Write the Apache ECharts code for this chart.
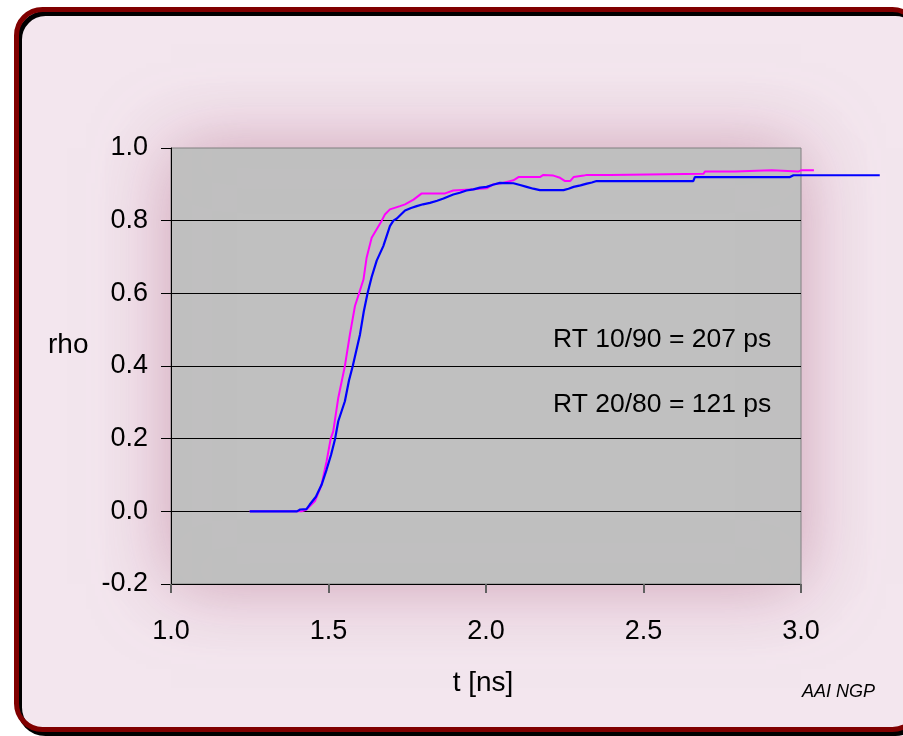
<!DOCTYPE html>
<html>
<head>
<meta charset="utf-8">
<script src="https://cdn.jsdelivr.net/npm/echarts@6/dist/echarts.min.js"></script>
<style>
html,body{margin:0;padding:0;background:#ffffff;overflow:hidden;}
#c{width:903px;height:736px;}
</style>
</head>
<body>
<div id="c"></div>
<script>
// ---- data ----
var xTicks = [1.0, 1.5, 2.0, 2.5, 3.0];
var yTicks = [-0.2, 0.0, 0.2, 0.4, 0.6, 0.8, 1.0];

var blueT = [1.25, 1.40, 1.41, 1.43, 1.44, 1.46, 1.478, 1.494, 1.508, 1.521, 1.531, 1.552, 1.565, 1.577, 1.60, 1.612, 1.624, 1.637, 1.653, 1.674, 1.695, 1.706, 1.717, 1.743, 1.762, 1.780, 1.800, 1.822, 1.845, 1.865, 1.896, 1.917, 1.938, 1.960, 1.981, 2.002, 2.022, 2.044, 2.087, 2.108, 2.129, 2.150, 2.171, 2.246, 2.262, 2.278, 2.300, 2.320, 2.336, 2.351, 2.658, 2.663, 2.965, 2.976, 3.25];
var blueR = [0.000, 0.000, 0.005, 0.006, 0.018, 0.040, 0.073, 0.115, 0.155, 0.200, 0.248, 0.303, 0.360, 0.400, 0.487, 0.550, 0.600, 0.645, 0.690, 0.730, 0.785, 0.800, 0.806, 0.828, 0.835, 0.840, 0.845, 0.849, 0.855, 0.861, 0.872, 0.877, 0.883, 0.886, 0.891, 0.893, 0.899, 0.904, 0.903, 0.898, 0.893, 0.888, 0.884, 0.884, 0.888, 0.893, 0.897, 0.902, 0.905, 0.909, 0.909, 0.920, 0.920, 0.925, 0.925];

var pinkT = [1.25, 1.415, 1.430, 1.457, 1.478, 1.494, 1.507, 1.515, 1.531, 1.552, 1.568, 1.584, 1.597, 1.611, 1.621, 1.637, 1.669, 1.679, 1.695, 1.727, 1.743, 1.770, 1.796, 1.870, 1.896, 1.950, 2.002, 2.023, 2.044, 2.087, 2.103, 2.171, 2.182, 2.214, 2.235, 2.251, 2.267, 2.278, 2.310, 2.320, 2.394, 2.399, 2.690, 2.695, 2.790, 2.796, 2.907, 2.912, 2.991, 3.002, 3.041];
var pinkR = [0.000, 0.000, 0.005, 0.028, 0.073, 0.138, 0.200, 0.220, 0.312, 0.400, 0.487, 0.565, 0.600, 0.638, 0.698, 0.753, 0.800, 0.817, 0.831, 0.840, 0.845, 0.858, 0.875, 0.875, 0.883, 0.886, 0.889, 0.900, 0.902, 0.911, 0.920, 0.920, 0.926, 0.924, 0.918, 0.909, 0.909, 0.920, 0.924, 0.926, 0.926, 0.929, 0.929, 0.935, 0.935, 0.939, 0.939, 0.935, 0.935, 0.939, 0.939];

var yLabel = 'rho';
var xLabel = 't [ns]';
var notes = ['RT 10/90 = 207 ps', 'RT 20/80 = 121 ps'];
var credit = 'AAI NGP';

function pairs(t, r) { return t.map(function (v, i) { return [v, r[i]]; }); }

var FONT = '"Liberation Sans", Arial, sans-serif';
var chart = echarts.init(document.getElementById('c'), null, { renderer: 'canvas', width: 903, height: 736 });

// plot box: x 1.0..3.0 -> 171..801 px ; an overflow box continues the same scale to 3.25
var plotLeft = 171, plotRight = 801, plotTop = 148, plotBottom = 584;
var pxPerNs = (plotRight - plotLeft) / 2.0;
var xOverflowMax = 3.25;
var overflowRightPx = plotLeft + (xOverflowMax - 1.0) * pxPerNs;

chart.setOption({
  animation: false,
  backgroundColor: '#ffffff',
  graphic: [
    {
      type: 'rect', z: -10, silent: true,
      shape: { x: 16.5, y: 9.5, width: 902, height: 720, r: 26 },
      style: { fill: '#f3e6ee', stroke: '#800000', lineWidth: 5,
               shadowColor: '#000000', shadowOffsetX: 3, shadowOffsetY: 4, shadowBlur: 0 }
    },
    { type: 'text', x: 48, y: 345, style: { text: yLabel, font: '28px ' + FONT, fill: '#000', verticalAlign: 'middle' } },
    { type: 'text', x: 483, y: 683, style: { text: xLabel, font: '28px ' + FONT, fill: '#000', align: 'center', verticalAlign: 'middle' } },
    { type: 'text', x: 553, y: 340, z: 10, style: { text: notes[0], font: '26.5px ' + FONT, fill: '#000', verticalAlign: 'middle' } },
    { type: 'text', x: 553, y: 405, z: 10, style: { text: notes[1], font: '26.5px ' + FONT, fill: '#000', verticalAlign: 'middle' } },
    { type: 'text', x: 802, y: 692, style: { text: credit, font: 'italic 18px ' + FONT, fill: '#000', verticalAlign: 'middle' } }
  ],
  grid: [
    {
      show: true, left: plotLeft, top: plotTop, right: 903 - plotRight, bottom: 736 - plotBottom,
      backgroundColor: '#c0c0c0', borderColor: '#808080', borderWidth: 1,
      shadowColor: 'rgba(185,115,145,0.6)', shadowBlur: 70
    },
    {
      show: false, left: plotLeft, top: plotTop, right: 903 - overflowRightPx, bottom: 736 - plotBottom
    }
  ],
  xAxis: [
    {
      type: 'value', gridIndex: 0, min: 1.0, max: 3.0, interval: 0.5, position: 'bottom',
      axisLine: { show: false }, axisTick: { show: false }, splitLine: { show: false },
      axisLabel: { margin: 34, fontSize: 27, fontFamily: FONT, color: '#000',
        formatter: function (v) { return v.toFixed(1); } }
    },
    {
      type: 'value', gridIndex: 0, min: 1.0, max: 3.0, interval: 0.5, position: 'bottom',
      axisLine: { show: true, onZero: true, lineStyle: { color: '#000', width: 1 } },
      axisTick: { show: true, inside: false, length: 9, lineStyle: { color: '#606060', width: 2 } },
      axisLabel: { show: false }, splitLine: { show: false }
    },
    {
      type: 'value', gridIndex: 1, min: 1.0, max: xOverflowMax, show: false
    }
  ],
  yAxis: [
    {
      type: 'value', gridIndex: 0, min: -0.2, max: 1.0, interval: 0.2,
      axisLine: { show: true, onZero: false, lineStyle: { color: '#000', width: 1 } },
      axisTick: { show: true, inside: false, length: 10, lineStyle: { color: '#000' } },
      axisLabel: { margin: 23, fontSize: 27, fontFamily: FONT, color: '#000',
        formatter: function (v) { return v.toFixed(1); } },
      splitLine: { show: true, showMinLine: false, showMaxLine: false, lineStyle: { color: '#000', width: 1 } }
    },
    {
      type: 'value', gridIndex: 1, min: -0.2, max: 1.0, show: false
    }
  ],
  series: [
    { type: 'line', name: 'pink', xAxisIndex: 2, yAxisIndex: 1, data: pairs(pinkT, pinkR), showSymbol: false, clip: false,
      lineStyle: { color: '#ff00ff', width: 2 }, z: 3 },
    { type: 'line', name: 'blue', xAxisIndex: 2, yAxisIndex: 1, data: pairs(blueT, blueR), showSymbol: false, clip: false,
      lineStyle: { color: '#0000ff', width: 2.2 }, z: 4 }
  ]
});
</script>
</body>
</html>
